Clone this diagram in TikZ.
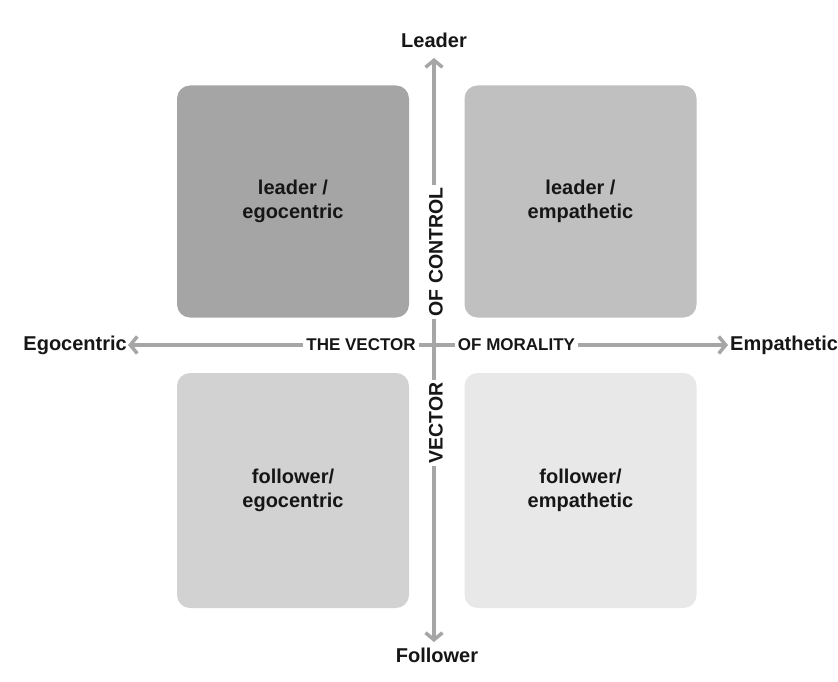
\documentclass[tikz,border=0pt]{standalone}
\usepackage{fontspec}
\setmainfont{Liberation Sans}
\usetikzlibrary{arrows.meta,positioning}
\definecolor{axisgray}{RGB}{166,166,166}
\definecolor{boxdark}{RGB}{165,165,165}
\definecolor{boxmid}{RGB}{192,192,192}
\definecolor{boxlight}{RGB}{210,210,210}
\definecolor{boxpale}{RGB}{232,232,232}
\definecolor{ink}{RGB}{22,22,22}

\begin{document}
\begin{tikzpicture}[x=1pt, y=-1pt,
  quadrant/.style={rounded corners=13pt, minimum width=232pt, minimum height=232pt,
    inner sep=0pt, align=center, text=ink, font=\bfseries\fontsize{20}{24}\selectfont},
  axisline/.style={draw=axisgray, line width=3.5pt,
    -{Straight Barb[length=7pt, width=17pt]}},
  endlabel/.style={inner sep=0pt, text=ink, font=\bfseries\fontsize{20}{24}\selectfont},
  midlabel/.style={fill=white, inner xsep=3pt, inner ysep=2pt, text=ink,
    font=\bfseries\fontsize{17}{20}\selectfont},
  vertlabel/.style={midlabel, rotate=90, font=\bfseries\fontsize{19.5}{22}\selectfont},
]

% ── Canvas ───────────────────────────────────────────────────────────
\useasboundingbox (0,0) rectangle (838,682);
\fill[white] (0,0) rectangle (838,682);

% ── Quadrants ────────────────────────────────────────────────────────
\node[quadrant, fill=boxdark]  (leadego) at (293,201.5)   {leader /\\egocentric};
\node[quadrant, fill=boxmid]   (leademp) at (580.5,201.5) {leader /\\empathetic};
\node[quadrant, fill=boxlight, minimum height=235pt] (follego) at (293,490.5)   {follower/\\egocentric};
\node[quadrant, fill=boxpale,  minimum height=235pt] (follemp) at (580.5,490.5) {follower/\\empathetic};

% ── Axes ─────────────────────────────────────────────────────────────
\coordinate (cross)    at (434,345);
\coordinate (uptip)    at (434,58);
\coordinate (downtip)  at (434,642);
\coordinate (lefttip)  at (128,345);
\coordinate (righttip) at (728,345);

\draw[axisline] (cross) -- (uptip);
\draw[axisline] (cross) -- (downtip);
\draw[axisline] (cross) -- (lefttip);
\draw[axisline] (cross) -- (righttip);

% ── Axis end labels ──────────────────────────────────────────────────
\node[endlabel, above=10pt of uptip]             (leader)     {Leader};
\node[endlabel, below=6pt of downtip, xshift=3pt] (follower)   {Follower};
\node[endlabel, left=1pt of lefttip]             (egocentric) {Egocentric};
\node[endlabel, right=2pt of righttip]           (empathetic) {Empathetic};

% ── Axis names (white boxes over the lines) ──────────────────────────
\node[midlabel]  (thevector)  at (361,345)   {THE VECTOR};
\node[midlabel]  (ofmorality) at (516.5,345) {OF MORALITY};
\node[vertlabel] (ofcontrol)  at (436,252)   {OF CONTROL};
\node[vertlabel] (vector)     at (436,423)   {VECTOR};

\end{tikzpicture}
\end{document}
